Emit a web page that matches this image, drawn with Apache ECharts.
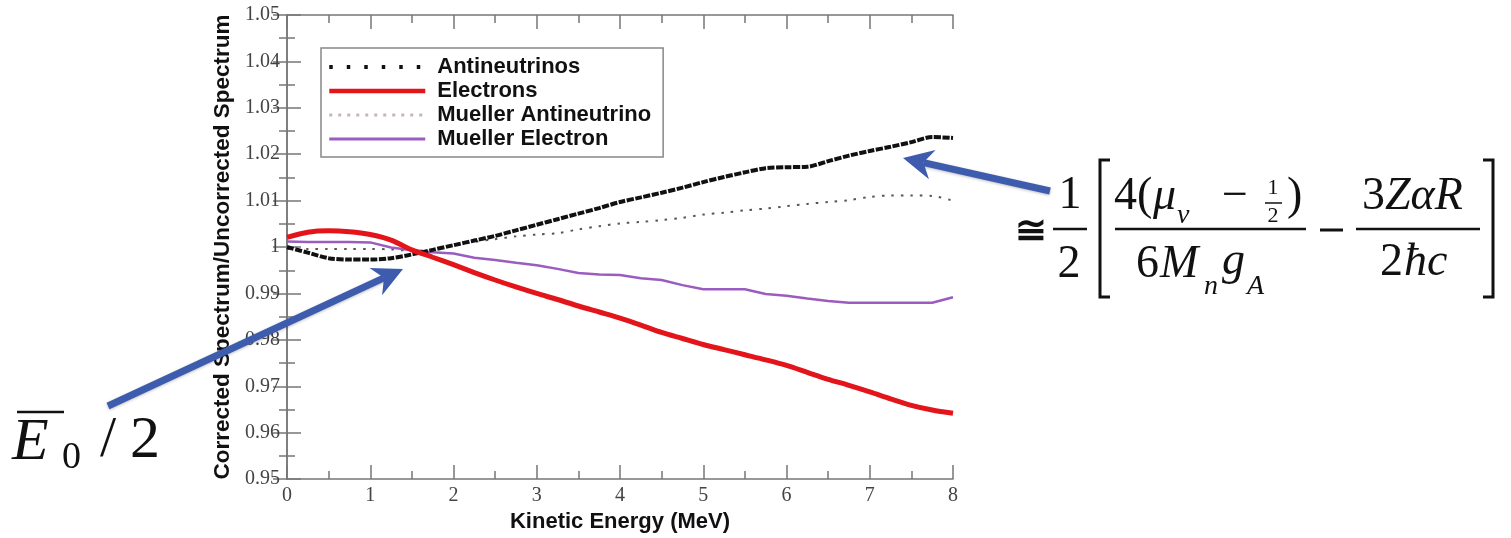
<!DOCTYPE html>
<html><head><meta charset="utf-8">
<script src="https://cdn.jsdelivr.net/npm/echarts@6/dist/echarts.min.js"></script>
<style>html,body{margin:0;padding:0;background:#fff}#c{width:1511px;height:538px}</style>
</head><body><div id="c"></div><script>
// ---- data ----
const energy = [0,0.25,0.5,0.75,1,1.25,1.5,1.75,2,2.25,2.5,2.75,3,3.25,3.5,3.75,4,4.25,4.5,4.75,5,5.25,5.5,5.75,6,6.25,6.5,6.75,7,7.25,7.5,7.75,8];
const antineutrinos = [1.0000,0.9988,0.9976,0.9973,0.9973,0.9976,0.9984,0.9994,1.0004,1.0014,1.0024,1.0036,1.0048,1.0060,1.0072,1.0084,1.0097,1.0107,1.0117,1.0128,1.0140,1.0151,1.0161,1.0170,1.0172,1.0173,1.0185,1.0197,1.0207,1.0216,1.0226,1.0237,1.0235];
const electrons = [1.0021,1.0032,1.0035,1.0033,1.0027,1.0015,0.9994,0.9978,0.9962,0.9945,0.9929,0.9914,0.9900,0.9887,0.9873,0.9860,0.9847,0.9832,0.9816,0.9803,0.9790,0.9779,0.9768,0.9757,0.9745,0.9730,0.9715,0.9702,0.9688,0.9673,0.9659,0.9649,0.9642];
const muellerAntineutrino = [0.9996,0.9996,0.9996,0.9996,0.9996,0.9995,0.9992,0.9994,1.0002,1.0011,1.0017,1.0023,1.0027,1.0030,1.0038,1.0045,1.0051,1.0054,1.0058,1.0063,1.0070,1.0074,1.0079,1.0083,1.0088,1.0093,1.0097,1.0101,1.0108,1.0111,1.0111,1.0110,1.0100];
const muellerElectron = [1.0012,1.0011,1.0011,1.0011,1.0010,0.9999,0.9993,0.9989,0.9986,0.9977,0.9972,0.9966,0.9961,0.9953,0.9944,0.9941,0.9940,0.9933,0.9929,0.9918,0.9909,0.9909,0.9909,0.9899,0.9895,0.9889,0.9884,0.9880,0.9880,0.9880,0.9880,0.9880,0.9892];
const seriesNames = ['Antineutrinos','Electrons','Mueller Antineutrino','Mueller Electron'];
const xTitle = 'Kinetic Energy (MeV)';
const yTitle = 'Corrected Spectrum/Uncorrected Spectrum';

const pairs = (ys) => energy.map((x, i) => [x, ys[i]]);
const GRAY = '#777';
const SERIF = '"Liberation Serif", "Times New Roman", serif';
const SANS = '"Liberation Sans", Arial, sans-serif';

function axisCommon(extra) {
  return Object.assign({
    type: 'value',
    axisLine: { show: true, lineStyle: { color: GRAY, width: 1.5 } },
    axisTick: { show: true, inside: true, length: 14, lineStyle: { color: GRAY, width: 1.5 } },
    minorTick: { show: true, splitNumber: 2, length: 8, lineStyle: { color: GRAY, width: 1.5 } },
    splitLine: { show: false },
    minorSplitLine: { show: false }
  }, extra);
}

const BLUE = '#3e5cad';
function arrow(x1, y1, x2, y2) {
  const dx = x2 - x1, dy = y2 - y1, L = Math.hypot(dx, dy), ux = dx / L, uy = dy / L, nx = -uy, ny = ux;
  const hl = 30, hw = 15, notch = 21;
  const bx = x2 - hl * ux, by = y2 - hl * uy;
  const mx = x2 - notch * ux, my = y2 - notch * uy;
  return [
    { type: 'line', z: 100, shape: { x1, y1, x2: mx, y2: my }, style: { stroke: BLUE, lineWidth: 7, shadowBlur: 3, shadowColor: 'rgba(0,0,0,0.25)', shadowOffsetY: 1 } },
    { type: 'polygon', z: 100, shape: { points: [[x2, y2], [bx + hw * nx, by + hw * ny], [mx, my], [bx - hw * nx, by - hw * ny]] }, style: { fill: BLUE } }
  ];
}
function txt(x, y, s, size, o) {
  o = o || {};
  const font = (o.italic ? 'italic ' : '') + (o.bold ? 'bold ' : '') + size + 'px ' + SERIF;
  const al = o.align || 'left';
  return { type: 'text', z: 100, x, y, style: { text: s, font, fill: '#111', textAlign: al, align: al, textVerticalAlign: 'middle', verticalAlign: 'middle' } };
}
function seg(x1, y1, x2, y2, w) {
  return { type: 'line', z: 100, shape: { x1, y1, x2, y2 }, style: { stroke: '#111', lineWidth: w || 2.5 } };
}
function poly(points, w) {
  return { type: 'polyline', z: 100, shape: { points }, style: { stroke: '#111', lineWidth: w || 3, fill: null } };
}

const graphics = [].concat(
  arrow(108, 406, 403, 269),
  arrow(1050, 191, 903, 158),
  [
    // E0/2
    txt(12, 443, 'E', 60, { italic: true }),
    seg(17, 412, 64, 412, 2.5),
    txt(62, 458, '0', 38),
    txt(100, 441, '/', 58),
    txt(130, 441, '2', 60),
    // formula
    txt(1031, 233, '\u2245', 38, { bold: true, align: 'center' }),
    txt(1070, 196, '1', 46, { align: 'center' }),
    seg(1053, 229, 1087, 229),
    txt(1069, 265, '2', 46, { align: 'center' }),
    poly([[1110, 160], [1100, 160], [1100, 297], [1110, 297]], 3),
    poly([[1483, 160], [1493, 160], [1493, 297], [1483, 297]], 3),
    txt(1114, 197, '4(', 46),
    txt(1153, 197, '\u03bc', 46, { italic: true }),
    txt(1177, 216, '\u03bd', 28, { italic: true }),
    txt(1222, 197, '\u2212', 46),
    txt(1273, 188, '1', 22, { align: 'center' }),
    seg(1265, 203, 1282, 203, 1.5),
    txt(1273, 216, '2', 22, { align: 'center' }),
    txt(1287, 197, ')', 46),
    seg(1115, 229, 1306, 229),
    txt(1136, 265, '6', 46),
    txt(1160, 265, 'M', 46, { italic: true }),
    txt(1204, 287, 'n', 28, { italic: true }),
    txt(1222, 262, 'g', 46, { italic: true }),
    txt(1247, 287, 'A', 28, { italic: true }),
    seg(1320, 230, 1343, 230, 3),
    txt(1362, 197, '3', 46),
    txt(1385, 197, 'Z\u03b1R', 46, { italic: true }),
    seg(1356, 229, 1480, 229),
    txt(1380, 263, '2', 46),
    txt(1404, 263, '\u0127c', 46, { italic: true })
  ]
);

const noSym = { opacity: 0 };
const chart = echarts.init(document.getElementById('c'), null, { renderer: 'canvas' });
chart.setOption({
  animation: false,
  backgroundColor: '#fff',
  grid: { left: 287, right: 558, top: 15, bottom: 55, containLabel: false },
  legend: {
    orient: 'vertical', left: 321, top: 48,
    padding: [7, 12, 6, 6], itemGap: 0, itemWidth: 96, itemHeight: 24,
    backgroundColor: '#fff', borderColor: '#888', borderWidth: 1.5, borderRadius: 0,
    textStyle: { fontFamily: SANS, fontWeight: 'bold', fontSize: 22, color: '#111', lineHeight: 24, padding: [0, 0, 0, 7] },
    data: [
      { name: seriesNames[0], itemStyle: noSym, lineStyle: { color: '#111', width: 4, type: [3.5, 14], cap: 'butt' } },
      { name: seriesNames[1], itemStyle: noSym, lineStyle: { color: '#e3151b', width: 4.5, type: 'solid' } },
      { name: seriesNames[2], itemStyle: noSym, lineStyle: { color: '#c9b3ba', width: 3, type: [3, 6] } },
      { name: seriesNames[3], itemStyle: noSym, lineStyle: { color: '#9b5cbf', width: 3, type: 'solid' } }
    ]
  },
  xAxis: [
    axisCommon({
      min: 0, max: 8, interval: 1, position: 'bottom',
      axisLabel: { fontFamily: SERIF, fontSize: 20, color: '#444', margin: 7 },
      name: xTitle, nameLocation: 'middle', nameGap: 29,
      nameTextStyle: { fontFamily: SANS, fontWeight: 'bold', fontSize: 22, color: '#111' }
    }),
    axisCommon({ min: 0, max: 8, interval: 1, position: 'top', axisLabel: { show: false } })
  ],
  yAxis: [
    axisCommon({
      min: 0.95, max: 1.05, interval: 0.01, position: 'left',
      axisLabel: {
        fontFamily: SERIF, fontSize: 20, color: '#444', margin: 7,
        formatter: (v) => Math.abs(v - 1) < 1e-9 ? '1' : (Math.round(v * 100) / 100).toFixed(2)
      },
      name: yTitle, nameLocation: 'middle', nameGap: 53, nameRotate: 90,
      nameTextStyle: { fontFamily: SANS, fontWeight: 'bold', fontSize: 22.5, color: '#111' }
    }),
    axisCommon({ min: 0.95, max: 1.05, interval: 0.01, position: 'right', axisLabel: { show: false } })
  ],
  series: [
    { name: seriesNames[2], type: 'line', symbol: 'none', smooth: 0.3, data: pairs(muellerAntineutrino),
      lineStyle: { color: '#555', width: 2, type: [2.5, 7] }, itemStyle: { color: '#555' }, z: 2 },
    { name: seriesNames[3], type: 'line', symbol: 'none', smooth: false, data: pairs(muellerElectron),
      lineStyle: { color: '#9b5cbf', width: 2.5 }, itemStyle: { color: '#9b5cbf' }, z: 3 },
    { name: seriesNames[0], type: 'line', symbol: 'none', smooth: 0.3, data: pairs(antineutrinos),
      lineStyle: { color: '#111', width: 4, type: [7, 1.5] }, itemStyle: { color: '#111' }, z: 4 },
    { name: seriesNames[1], type: 'line', symbol: 'none', smooth: 0.3, data: pairs(electrons),
      lineStyle: { color: '#e3151b', width: 5 }, itemStyle: { color: '#e3151b' }, z: 5 }
  ],
  graphic: graphics
});
</script></body></html>
